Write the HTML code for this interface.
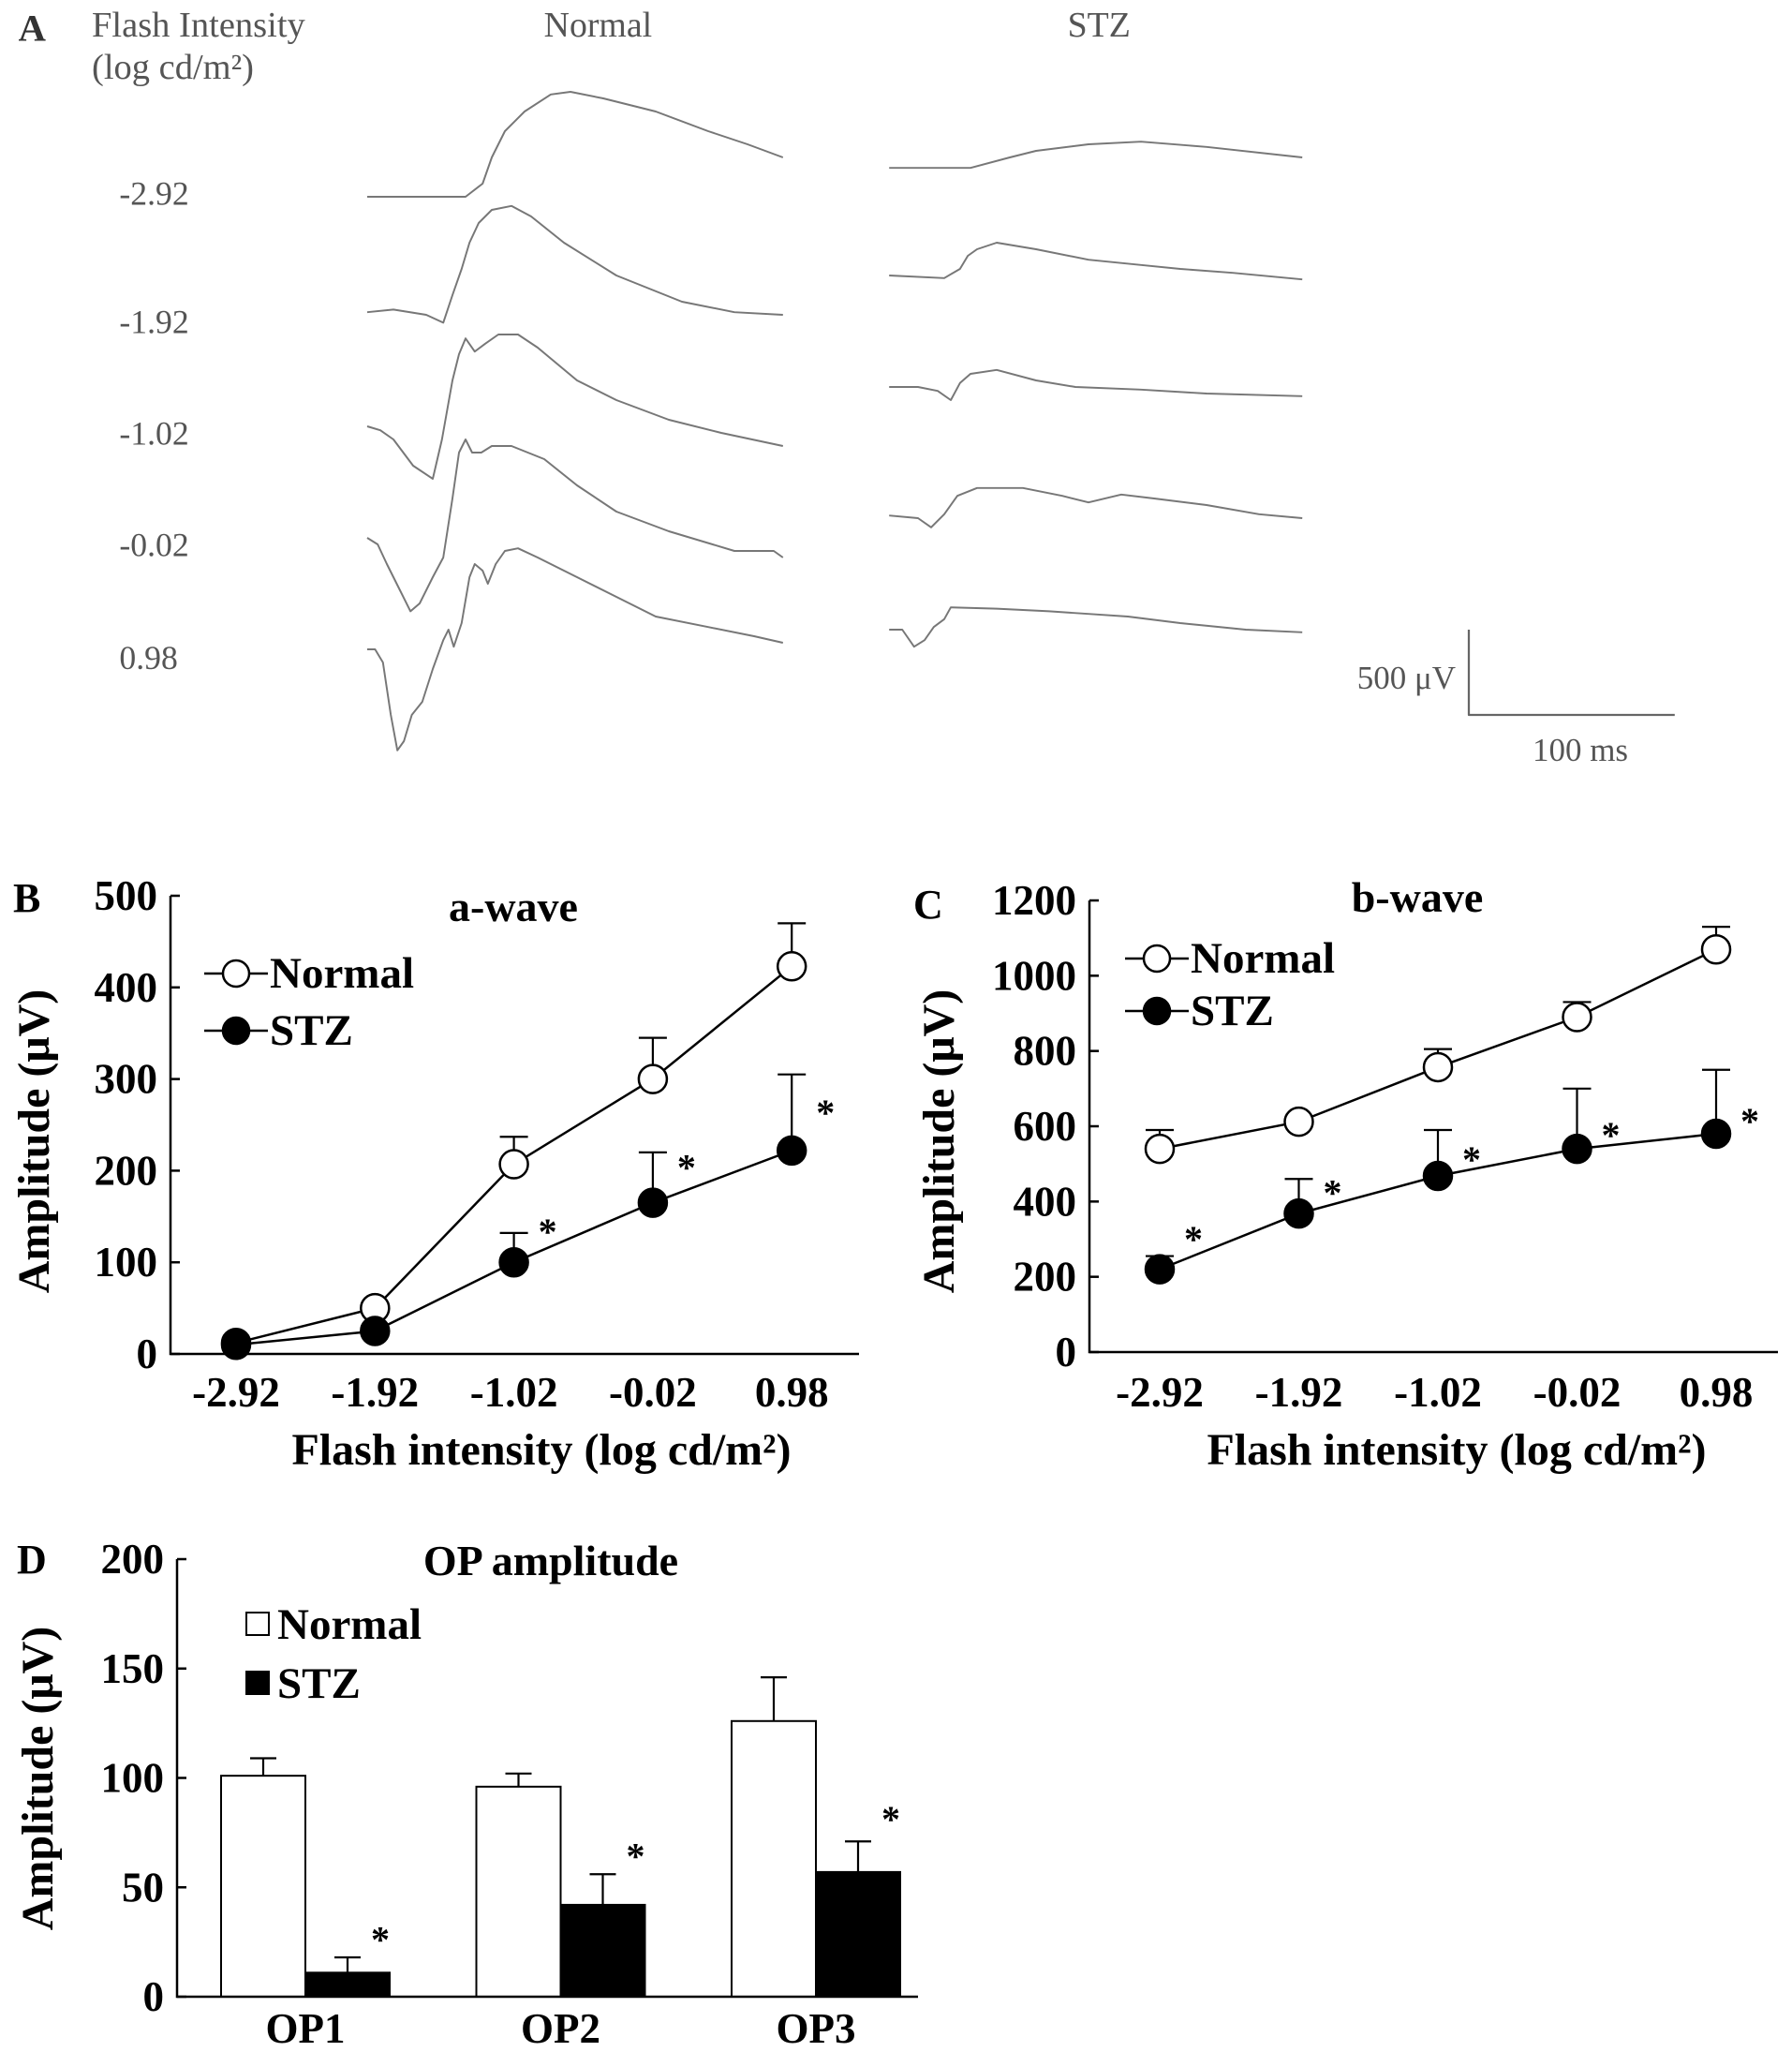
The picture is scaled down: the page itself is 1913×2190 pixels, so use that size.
<!DOCTYPE html>
<html><head><meta charset="utf-8"><style>
html,body{margin:0;padding:0;background:#fff;}
svg{display:block;font-family:"Liberation Serif",serif;}
.bt{font-weight:bold;fill:#000;}
</style></head><body>
<svg id="fig" width="1913" height="2190" viewBox="0 0 1913 2190" xmlns="http://www.w3.org/2000/svg">
<g id="panelA" transform="scale(1.4)">
  <text x="14" y="31" font-size="29" font-weight="bold" fill="#333">A</text>
  <text x="70" y="28" font-size="27.5" fill="#555">Flash Intensity</text>
  <text x="70" y="60" font-size="27.5" fill="#555">(log cd/m²)</text>
  <text x="456" y="28" font-size="27" fill="#555" text-anchor="middle">Normal</text>
  <text x="838" y="28" font-size="27" fill="#555" text-anchor="middle">STZ</text>
  <text x="91" y="156" font-size="25.5" fill="#555">-2.92</text>
  <text x="91" y="254" font-size="25.5" fill="#555">-1.92</text>
  <text x="91" y="339" font-size="25.5" fill="#555">-1.02</text>
  <text x="91" y="424" font-size="25.5" fill="#555">-0.02</text>
  <text x="91" y="510" font-size="25.5" fill="#555">0.98</text>
  <g fill="none" stroke="#777" stroke-width="1.4" stroke-linejoin="round">
    <polyline points="280,150 355,150 368,140 375,120 385,100 400,85 420,72 435,70 460,75 500,85 540,100 570,110 597,120"/>
    <polyline points="280,238 300,236 325,240 338,246 345,225 352,205 358,185 365,170 375,160 390,157 405,165 430,185 470,210 520,230 560,238 597,240"/>
    <polyline points="280,325 290,328 300,335 315,355 330,365 337,335 345,290 350,270 355,258 362,268 370,262 380,255 395,255 410,265 440,290 470,305 510,320 550,330 597,340"/>
    <polyline points="280,410 288,415 295,430 305,450 313,466 320,460 330,440 338,425 345,380 350,345 355,335 360,345 367,345 375,340 390,340 415,350 440,370 470,390 510,405 560,420 590,420 597,425"/>
    <polyline points="280,495 286,495 292,505 298,545 303,572 308,565 314,545 322,535 330,510 338,488 342,480 346,493 352,475 358,440 362,430 368,435 372,445 378,430 385,420 395,418 410,425 440,440 470,455 500,470 540,478 575,485 597,490"/>
    <polyline points="678,128 740,128 770,120 790,115 830,110 870,108 920,112 993,120"/>
    <polyline points="678,210 720,212 732,205 738,195 745,190 760,185 790,190 830,198 870,202 900,205 940,208 993,213"/>
    <polyline points="678,295 700,295 715,298 725,305 732,292 740,285 760,282 790,290 820,295 870,297 920,300 993,302"/>
    <polyline points="678,393 700,395 710,402 720,392 730,378 745,372 780,372 810,378 830,383 855,377 880,380 920,385 960,392 993,395"/>
    <polyline points="678,480 688,480 697,493 705,488 712,478 720,472 725,463 760,464 800,466 830,468 860,470 900,475 950,480 993,482"/>
    <polyline stroke="#666" stroke-width="1.6" points="1120,480 1120,545 1277,545"/>
  </g>
  <text x="1110" y="525" font-size="25" fill="#555" text-anchor="end">500 μV</text>
  <text x="1205" y="580" font-size="25" fill="#555" text-anchor="middle">100 ms</text>
</g>
</svg>
<script>
// ---- Panel B (a-wave) data
var xCats = ['-2.92', '-1.92', '-1.02', '-0.02', '0.98'];
var aNormal = [12, 50, 207, 300, 423];
var aNormalErr = [null, null, 237, 345, 470];
var aStz = [10, 25, 100, 165, 222];
var aStzErr = [null, null, 132, 220, 305];
var aStar = [null, null, 140, 210, 270];
var aTicks = [0, 100, 200, 300, 400, 500];
// ---- Panel C (b-wave) data
var bNormal = [540, 612, 757, 890, 1070];
var bNormalErr = [590, null, 805, 930, 1130];
var bStz = [220, 368, 468, 540, 580];
var bStzErr = [255, 460, 590, 700, 750];
var bStar = [316, 440, 528, 592, 630];
var bTicks = [0, 200, 400, 600, 800, 1000, 1200];
// ---- Panel D (OP amplitude) data
var opCats = ['OP1', 'OP2', 'OP3'];
var opNormal = [101, 96, 126];
var opNormalErr = [109, 102, 146];
var opStz = [11, 42, 57];
var opStzErr = [18, 56, 71];
var opStar = [29, 67, 84];
var opTicks = [0, 50, 100, 150, 200];

var NS = 'http://www.w3.org/2000/svg';
var svg = document.getElementById('fig');
function mk(tag, attrs, parent) {
  var e = document.createElementNS(NS, tag);
  for (var k in attrs) e.setAttribute(k, attrs[k]);
  (parent || svg).appendChild(e);
  return e;
}
function txt(s, x, y, size, anchor, cls, parent) {
  var t = mk('text', {x: x, y: y, 'font-size': size, 'text-anchor': anchor || 'start', 'class': cls || 'bt'}, parent);
  t.textContent = s;
  return t;
}

function lineChart(cfg) {
  var g = mk('g', {});
  
  
  var x0 = cfg.x0, x1 = cfg.x1, yTop = cfg.yTop, yBot = cfg.yBot, vmax = cfg.vmax;
  function ys(v) { return yBot - (v / vmax) * (yBot - yTop); }
  function xs(i) { return cfg.xFirst + i * cfg.xStep; }
  var ax = mk('path', {d: 'M' + x0 + ' ' + yTop + ' V' + yBot + ' H' + x1, stroke: '#000', 'stroke-width': 2.5, fill: 'none'}, g);
  
  
  cfg.ticks.forEach(function (v) {
    var tk = mk('line', {x1: x0, x2: x0 + 10, y1: ys(v), y2: ys(v), stroke: '#000', 'stroke-width': 2.5}, g);
    
    
    var tl = txt(String(v), x0 - 14, ys(v) + 15, 45, 'end', 'bt', g);
    
    
  });
  xCats.forEach(function (c, i) {
    var tl = txt(c, xs(i), cfg.tickY, 45, 'middle', 'bt', g);
    
    
  });
  function series(vals, errs, filled, nm) {
    var pts = vals.map(function (v, i) { return xs(i) + ',' + ys(v); }).join(' ');
    var pl = mk('polyline', {points: pts, fill: 'none', stroke: '#000', 'stroke-width': 2.5}, g);
    
    
    errs.forEach(function (e, i) {
      if (e === null) return;
      var eb = mk('path', {d: 'M' + xs(i) + ' ' + ys(vals[i]) + ' V' + ys(e) + ' M' + (xs(i) - 15) + ' ' + ys(e) + ' H' + (xs(i) + 15), stroke: '#000', 'stroke-width': 2.2, fill: 'none'}, g);
      
      
    });
    vals.forEach(function (v, i) {
      var c = mk('circle', {cx: xs(i), cy: ys(v), r: 15, fill: filled ? '#000' : '#fff', stroke: '#000', 'stroke-width': 2.5}, g);
      
      
    });
  }
  series(cfg.normal, cfg.normalErr, false, 'normal');
  series(cfg.stz, cfg.stzErr, true, 'stz');
  cfg.star.forEach(function (v, i) {
    if (v === null) return;
    var s = txt('*', xs(i) + 36, ys(v) + 20, 40, 'middle', '', g);
    s.setAttribute('fill', '#444');
    
    
  });
  var t = txt(cfg.title, cfg.titleX, cfg.titleY, 46, 'middle', 'bt', g);
  
  
  var L = cfg.leg;
  [['Normal', false, L.y1], ['STZ', true, L.y2]].forEach(function (d) {
    var ll = mk('line', {x1: L.x - 34, x2: L.x + 34, y1: d[2], y2: d[2], stroke: '#000', 'stroke-width': 2.5}, g);
    
    
    var lc = mk('circle', {cx: L.x, cy: d[2], r: 14, fill: d[1] ? '#000' : '#fff', stroke: '#000', 'stroke-width': 2.5}, g);
    
    
    var lt = txt(d[0], L.x + 36, d[2] + 15, 47, 'start', 'bt', g);
    
    
  });
  var yt = txt('Amplitude (μV)', 0, 0, 48, 'middle', 'bt', g);
  yt.setAttribute('transform', 'translate(' + cfg.yTitleX + ',' + cfg.yTitleY + ') rotate(-90)');
  
  
  var xt = txt('Flash intensity (log cd/m²)', cfg.xTitleX, 1563, 48, 'middle', 'bt', g);
  
  
  var pl = txt(cfg.letter, cfg.letterX, cfg.letterY, 44, 'start', 'bt', g);
  
  
}

lineChart({name: 'panel-b-a-wave-chart', x0: 182, x1: 917, yTop: 956, yBot: 1445, vmax: 500,
  xFirst: 252, xStep: 148.3, ticks: aTicks, tickY: 1501,
  normal: aNormal, normalErr: aNormalErr, stz: aStz, stzErr: aStzErr, star: aStar,
  title: 'a-wave', titleX: 548, titleY: 983, leg: {x: 252, y1: 1039, y2: 1100},
  yTitleX: 52, yTitleY: 1218, xTitleX: 578, letter: 'B', letterX: 14, letterY: 973});

lineChart({name: 'panel-c-b-wave-chart', x0: 1163, x1: 1898, yTop: 961, yBot: 1443, vmax: 1200,
  xFirst: 1238, xStep: 148.5, ticks: bTicks, tickY: 1501,
  normal: bNormal, normalErr: bNormalErr, stz: bStz, stzErr: bStzErr, star: bStar,
  title: 'b-wave', titleX: 1513, titleY: 973, leg: {x: 1235, y1: 1023, y2: 1079},
  yTitleX: 1018, yTitleY: 1218, xTitleX: 1555, letter: 'C', letterX: 975, letterY: 980});

// ---- Panel D bar chart
(function () {
  var g = mk('g', {});
  
  
  var x0 = 189, x1 = 980, yTop = 1664, yBot = 2131, vmax = 200;
  function ys(v) { return yBot - (v / vmax) * (yBot - yTop); }
  function xc(i) { return 326 + i * 272.5; }
  var bw = 90;
  opTicks.forEach(function (v) {
    var tk = mk('line', {x1: x0, x2: x0 + 10, y1: ys(v), y2: ys(v), stroke: '#000', 'stroke-width': 2.5}, g);
    
    
    var tl = txt(String(v), x0 - 14, ys(v) + 15, 45, 'end', 'bt', g);
    
    
  });
  opCats.forEach(function (c, i) {
    [[opNormal, opNormalErr, '#fff', -bw, 'normal'], [opStz, opStzErr, '#000', 0, 'stz']].forEach(function (s) {
      var v = s[0][i], e = s[1][i], bx = xc(i) + s[3];
      var eb = mk('path', {d: 'M' + (bx + bw / 2) + ' ' + ys(v) + ' V' + ys(e) + ' M' + (bx + bw / 2 - 14) + ' ' + ys(e) + ' H' + (bx + bw / 2 + 14), stroke: '#000', 'stroke-width': 2.2, fill: 'none'}, g);
      
      
      var r = mk('rect', {x: bx, y: ys(v), width: bw, height: yBot - ys(v), fill: s[2], stroke: '#000', 'stroke-width': 2}, g);
      
      
    });
    var st = txt('*', xc(i) + 80, ys(opStar[i]) + 20, 40, 'middle', '', g);
    st.setAttribute('fill', '#444');
    
    
    var cl = txt(c, xc(i), 2180, 45, 'middle', 'bt', g);
    
    
  });
  var ax = mk('path', {d: 'M' + x0 + ' ' + yTop + ' V' + yBot + ' H' + x1, stroke: '#000', 'stroke-width': 2.5, fill: 'none'}, g);
  
  
  var t = txt('OP amplitude', 588, 1681, 46, 'middle', 'bt', g);
  
  
  [['Normal', '#fff', 1733], ['STZ', '#000', 1796]].forEach(function (d) {
    var r = mk('rect', {x: 263, y: d[2] - 12, width: 24, height: 24, fill: d[1], stroke: '#000', 'stroke-width': 2}, g);
    
    
    var lt = txt(d[0], 296, d[2] + 16, 47, 'start', 'bt', g);
    
    
  });
  var yt = txt('Amplitude (μV)', 0, 0, 48, 'middle', 'bt', g);
  yt.setAttribute('transform', 'translate(56,1898) rotate(-90)');
  
  
  var pl = txt('D', 18, 1679, 44, 'start', 'bt', g);
  
  
})();
</script>
</body></html>
